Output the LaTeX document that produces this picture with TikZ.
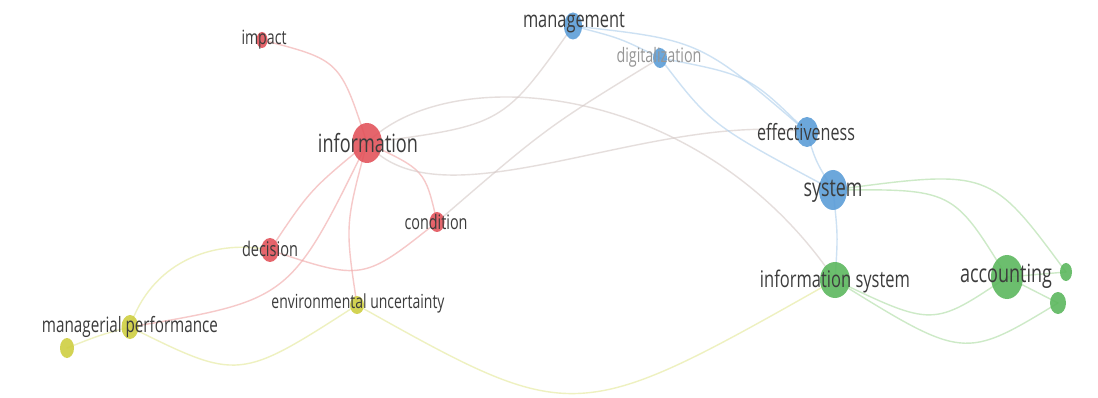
\documentclass[tikz,border=0pt]{standalone}
\usepackage{fontspec}
\newfontfamily\vos[FakeStretch=0.72]{Open Sans}
\usetikzlibrary{shapes.geometric}
\pgfdeclarelayer{edges}
\pgfsetlayers{edges,main}
\definecolor{nred}{RGB}{226,80,88}
\definecolor{nblue}{RGB}{88,155,215}
\definecolor{ngreen}{RGB}{88,182,90}
\definecolor{nyellow}{RGB}{205,205,60}
\definecolor{ered}{RGB}{240,165,165}
\definecolor{eblue}{RGB}{172,206,236}
\definecolor{egreen}{RGB}{172,220,162}
\definecolor{eyellow}{RGB}{228,232,150}
\definecolor{emix}{RGB}{212,200,198}
\definecolor{txt}{RGB}{60,60,60}
\definecolor{faint}{RGB}{150,150,150}
\tikzset{
  vn/.style 2 args={shape=ellipse, draw=none, inner sep=0pt,
    minimum width=#1pt, minimum height=#2pt, fill opacity=0.88},
  rednode/.style={fill=nred},
  bluenode/.style={fill=nblue},
  greennode/.style={fill=ngreen},
  yellownode/.style={fill=nyellow},
  lbl/.style={inner sep=0pt, text=txt, font=\vos},
  edge/.style={line width=1.4pt, opacity=0.6, line cap=round},
  redE/.style={edge, draw=ered},
  blueE/.style={edge, draw=eblue},
  greenE/.style={edge, draw=egreen},
  yellowE/.style={edge, draw=eyellow},
  mixE/.style={edge, draw=emix},
}
\newcommand{\lw}[2]{\resizebox{#1pt}{!}{#2}}
\begin{document}
\begin{tikzpicture}[x=1pt,y=-1pt]
\useasboundingbox (0,0) rectangle (1098,398);
% nodes
\node[vn={11}{16}, rednode] (impact) at (262,40) {};
\node[vn={30}{40}, rednode] (info) at (367,143) {};
\node[vn={18}{24}, rednode] (dec) at (270,250) {};
\node[vn={15}{20}, rednode] (cond) at (437,222) {};
\node[vn={18}{27}, bluenode] (mgmt) at (573,26) {};
\node[vn={14}{20}, bluenode] (digi) at (660,58) {};
\node[vn={22}{30}, bluenode] (eff) at (807,132) {};
\node[vn={28}{40}, bluenode] (sys) at (833,190) {};
\node[vn={30}{36}, greennode] (isys) at (835,280) {};
\node[vn={32}{44}, greennode] (acc) at (1007,277) {};
\node[vn={12}{18}, greennode] (ga) at (1066,272) {};
\node[vn={16}{22}, greennode] (gb) at (1058,303) {};
\node[vn={17}{24}, yellownode] (mp) at (130,327) {};
\node[vn={14}{18}, yellownode] (eu) at (357,305) {};
\node[vn={14}{20}, yellownode] (ya) at (67,348) {};
% edges
\begin{pgfonlayer}{edges}
\fill[white] (0,0) rectangle (1098,398);
\draw[redE] (impact.center) .. controls (340,60) .. (info.center);
\draw[redE] (info.center) .. controls (310,190) .. (dec.center);
\draw[redE] (info.center) .. controls (425,170) .. (cond.center);
\draw[redE] (info.center) .. controls (290,300) .. (mp.center);
\draw[redE] (info.center) .. controls (345,225) .. (eu.center);
\draw[redE] (dec.center) .. controls (363,281) .. (cond.center);
\draw[mixE] (info.center) .. controls (503,125) .. (mgmt.center);
\draw[mixE] (info.center) .. controls (440,230) and (650,110) .. (eff.center);
\draw[mixE] (info.center) .. controls (450,60) and (700,80) .. (isys.center);
\draw[mixE] (cond.center) .. controls (547,127) .. (digi.center);
\draw[yellowE] (dec.center) .. controls (210,238) and (150,265) .. (mp.center);
\draw[yellowE] (mp.center) .. controls (239,381) .. (eu.center);
\draw[yellowE] (eu.center) .. controls (575,427) .. (isys.center);
\draw[yellowE] (ya.center) .. controls (100,335) .. (mp.center);
\draw[blueE] (mgmt.center) .. controls (620,38) .. (digi.center);
\draw[blueE] (mgmt.center) .. controls (700,40) .. (eff.center);
\draw[blueE] (digi.center) .. controls (749,75) .. (eff.center);
\draw[blueE] (digi.center) .. controls (711,125) .. (sys.center);
\draw[blueE] (eff.center) .. controls (815,160) .. (sys.center);
\draw[blueE] (sys.center) .. controls (838,235) .. (isys.center);
\draw[greenE] (sys.center) .. controls (953,189) .. (acc.center);
\draw[greenE] (sys.center) .. controls (990,169) .. (ga.center);
\draw[greenE] (isys.center) .. controls (933,327) .. (acc.center);
\draw[greenE] (isys.center) .. controls (964,360) .. (gb.center);
\draw[greenE] (acc.center) -- (ga.center);
\draw[greenE] (acc.center) -- (gb.center);
\end{pgfonlayer}
% labels
\node[lbl] (impactL) at (264,40) {\lw{45}{impact}};
\node[lbl] (infoL) at (368,143) {\lw{100}{information}};
\node[lbl] (decL) at (270,249) {\lw{56}{decision}};
\node[lbl] (condL) at (436,222) {\lw{63}{condition}};
\node[lbl] (mgmtL) at (574,23) {\lw{102}{management}};
\node[lbl, text=faint] (digiL) at (659,57) {\lw{85}{digitalization}};
\node[lbl] (effL) at (806,132) {\lw{98}{effectiveness}};
\node[lbl] (sysL) at (833,191) {\lw{59}{system}};
\node[lbl] (isysL) at (835,281) {\lw{150}{information system}};
\node[lbl] (accL) at (1006,276) {\lw{92}{accounting}};
\node[lbl] (mpL) at (130,327) {\lw{176}{managerial performance}};
\node[lbl] (euL) at (358,303) {\lw{173}{environmental uncertainty}};
\end{tikzpicture}
\end{document}
